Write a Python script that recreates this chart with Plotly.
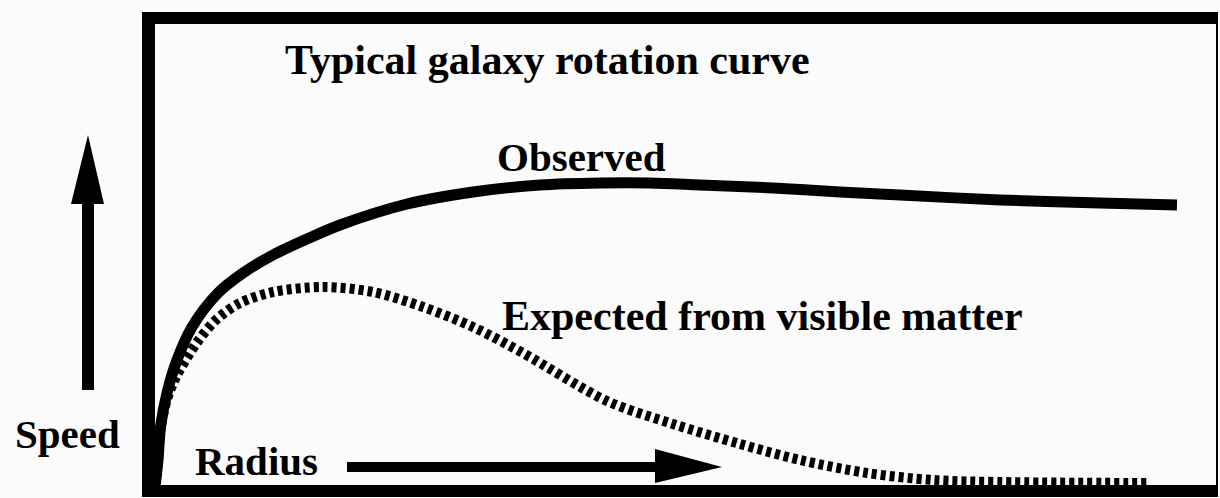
import plotly.graph_objects as go

# ---- data (radius in arbitrary units, speed in km/s-like units) ----
obs_radius = [0.00, 0.03, 0.055, 0.12, 0.22, 0.37, 0.63, 0.88, 1.18, 1.52, 1.85, 2.52,
              3.18, 3.85, 4.45, 4.95, 5.45, 6.18, 6.85, 7.45, 8.45, 9.45, 10.22]
obs_speed = [2, 15.5, 32, 49, 65.5, 82, 99, 109, 118, 126, 133, 143.5,
             149.5, 153, 154, 154, 153, 151.5, 149.5, 148, 145.5, 144, 143]

exp_radius = [0.00, 0.03, 0.055, 0.12, 0.22, 0.43, 0.62, 0.85, 1.18, 1.68, 2.18, 2.68,
              3.18, 3.68, 4.52, 5.18, 5.85, 6.45, 7.12, 7.78, 8.45, 9.95]
exp_speed = [2, 15.5, 31, 46, 58, 75, 86, 94, 99.5, 102, 99.5, 92,
             82, 69, 45, 33.5, 23.5, 15.5, 9, 5.5, 4.5, 4]

title_text = "Typical galaxy rotation curve"
obs_label = "Observed"
exp_label = "Expected from visible matter"
y_label = "Speed"
x_label = "Radius"

# ---- layout geometry (pixels) ----
W, H = 1220, 498
PL, PR, PT, PB = 148, 1217, 18, 491   # plot area edges


def px(x):
    return (x - PL) / (PR - PL)


def py(y):
    return (PB - y) / (PB - PT)


FONT = "Liberation Serif, Times New Roman, Times, serif"
BG = "#fbfbfb"

fig = go.Figure()
fig.add_trace(go.Scatter(x=exp_radius, y=exp_speed, mode="lines",
                         line=dict(color="black", width=10, dash="5px,4px",
                                   shape="spline", smoothing=0.9),
                         hoverinfo="skip", showlegend=False))
fig.add_trace(go.Scatter(x=obs_radius, y=obs_speed, mode="lines",
                         line=dict(color="black", width=11,
                                   shape="spline", smoothing=0.9),
                         hoverinfo="skip", showlegend=False))

shapes = []
# frame
shapes.append(dict(type="line", xref="paper", yref="paper", x0=px(148.5), x1=px(148.5),
                   y0=py(497), y1=py(12), line=dict(color="black", width=13)))
shapes.append(dict(type="line", xref="paper", yref="paper", x0=px(142), x1=px(1218),
                   y0=py(18), y1=py(18), line=dict(color="black", width=12)))
shapes.append(dict(type="line", xref="paper", yref="paper", x0=px(142), x1=px(1218),
                   y0=py(491), y1=py(491), line=dict(color="black", width=12)))
shapes.append(dict(type="line", xref="paper", yref="paper", x0=px(1217), x1=px(1217),
                   y0=py(497), y1=py(12), line=dict(color="black", width=2)))


def path(points):
    s = "M " + " L ".join(f"{px(a):.5f},{py(b):.5f}" for a, b in points) + " Z"
    return s


# up arrow
shapes.append(dict(type="path", xref="paper", yref="paper",
                   path=path([(82, 390), (94, 390), (94, 204), (104, 204), (88, 135),
                              (71, 204), (82, 204)]),
                   fillcolor="black", line=dict(width=0)))
# right arrow
shapes.append(dict(type="path", xref="paper", yref="paper",
                   path=path([(347, 462), (655, 462), (655, 449), (722, 467),
                              (655, 483), (655, 472), (347, 472)]),
                   fillcolor="black", line=dict(width=0)))

annotations = []


def label(text, x, y, size=41):
    annotations.append(dict(text="<b>" + text + "</b>", xref="paper", yref="paper",
                            x=px(x), y=py(y),
                            xanchor="left", yanchor="middle", showarrow=False,
                            font=dict(family=FONT, size=size, color="black")))


label(title_text, 283, 60, size=42)
label(obs_label, 495, 156.5)
label(exp_label, 500, 316, size=42)
label(y_label, 13, 434)
label(x_label, 193, 461)

fig.update_layout(
    width=W, height=H,
    margin=dict(l=PL, r=W - PR, t=PT, b=H - PB, pad=0),
    paper_bgcolor=BG, plot_bgcolor=BG,
    xaxis=dict(range=[-0.07, 10.62], visible=False, fixedrange=True),
    yaxis=dict(range=[0, 236.5], visible=False, fixedrange=True),
    shapes=shapes, annotations=annotations,
    showlegend=False,
)

fig.write_html("out.html", config={"displayModeBar": False},
               post_script="document.body.style.margin='0';document.body.style.background='#fbfbfb';")
